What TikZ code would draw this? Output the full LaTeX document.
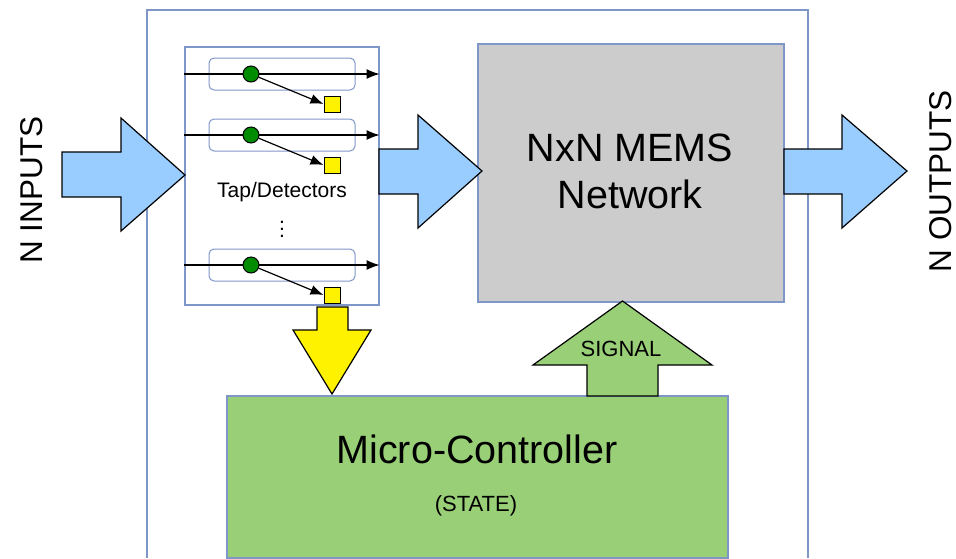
\documentclass[tikz,border=0pt]{standalone}
\usepackage{fontspec}
\setmainfont{Liberation Sans}
\usetikzlibrary{positioning,arrows.meta,calc}
\definecolor{frameblue}{HTML}{7F96C8}
\definecolor{arrowblue}{HTML}{99CCFF}
\definecolor{ctrlgreen}{HTML}{99CF77}
\definecolor{memsgray}{HTML}{CCCCCC}
\definecolor{dotgreen}{HTML}{008C00}

\begin{document}
\begin{tikzpicture}[x=1pt,y=-1pt,
    box/.style={draw=frameblue,line width=1.2pt},
    row/.style={draw=frameblue,line width=1pt,rounded corners=5pt,minimum width=146pt,minimum height=32pt},
    blk/.style={draw,line width=1.2pt,line join=miter},
    sig/.style={-{Latex[length=13pt,width=10pt]},line width=1.2pt},
    dot/.style={circle,draw,line width=1pt,fill=dotgreen,minimum size=16pt,inner sep=0pt},
    det/.style={draw,line width=1pt,fill=yellow,minimum size=16pt,inner sep=0pt},
    lab/.style={font=\fontsize{21}{25}\selectfont,inner sep=0pt},
    big/.style={font=\fontsize{39.5}{48}\selectfont,inner sep=0pt},
    side/.style={font=\fontsize{31.5}{36}\selectfont,inner sep=0pt,rotate=90,anchor=base}
  ]
    \useasboundingbox (0,0) rectangle (956,558);
    % outer frame, open at the bottom
    \draw[box] (147,558) |- (808,10) -- (808,558);

    % blocks
    \node[box,minimum width=194pt,minimum height=258pt] (tap) at (282,176) {};
    \node[box,fill=memsgray,minimum width=306pt,minimum height=258pt] (mems) at (631,173) {};
    \node[box,fill=ctrlgreen,minimum width=501pt,minimum height=162pt] (ctrl) at (477.5,477) {};

    % tap/detector rows
    \foreach \ly/\nm in {74/1,135/2,265/3}{
      \node[row] (row\nm) at (282,\ly) {};
      \draw[sig] (tap.west |- row\nm) -- (tap.east |- row\nm);
      \node[dot] (tapdot\nm) at (251,\ly) {};
      \node[det] (det\nm) at (332,\ly+30) {};
      \draw[sig] (tapdot\nm) -- (det\nm.west);
    }
    \node[lab,anchor=base] (taplab) at (282,197) {Tap/Detectors};
    \node[lab,anchor=base,align=center,font=\fontsize{21}{7}\selectfont] (tapdots) at (282,237) {.\\.\\.};

    % block arrows
    \draw[blk,fill=arrowblue] (62,152) -- (121,152) -- (121,118) -- (185,175)
      -- (121,231) -- (121,197) -- (62,197) -- cycle;
    \draw[blk,fill=arrowblue] (379,149) -- (418,149) -- (418,115) -- (482,171)
      -- (418,228) -- (418,194) -- (379,194) -- cycle;
    \draw[blk,fill=arrowblue] (784,149) -- (842,149) -- (842,115) -- (907,171)
      -- (842,228) -- (842,194) -- (784,194) -- cycle;
    \draw[blk,fill=yellow] (317,307) -- (348,307) -- (348,330) -- (371,330)
      -- (332,394) -- (293,330) -- (317,330) -- cycle;
    \draw[blk,fill=ctrlgreen] (587,396) -- (587,365) -- (533,365) -- (622.5,301)
      -- (712,365) -- (658,365) -- (658,396) -- cycle;

    % texts
    \node[big,anchor=base,align=center] (memslab) at (630,208.5) {NxN MEMS\\[-1pt]Network};
    \node[big,anchor=base] (ctrllab) at (477,463) {Micro-Controller};
    \node[lab,anchor=base,font=\fontsize{22}{26}\selectfont] (statelab) at (476,511.5) {(STATE)};
    \node[lab,anchor=base,font=\fontsize{22}{26}\selectfont] (siglab) at (621,356) {SIGNAL};
    \node[side] (inlab) at (42,190) {N INPUTS};
    \node[side] (outlab) at (951,181) {N OUTPUTS};
\end{tikzpicture}
\end{document}
